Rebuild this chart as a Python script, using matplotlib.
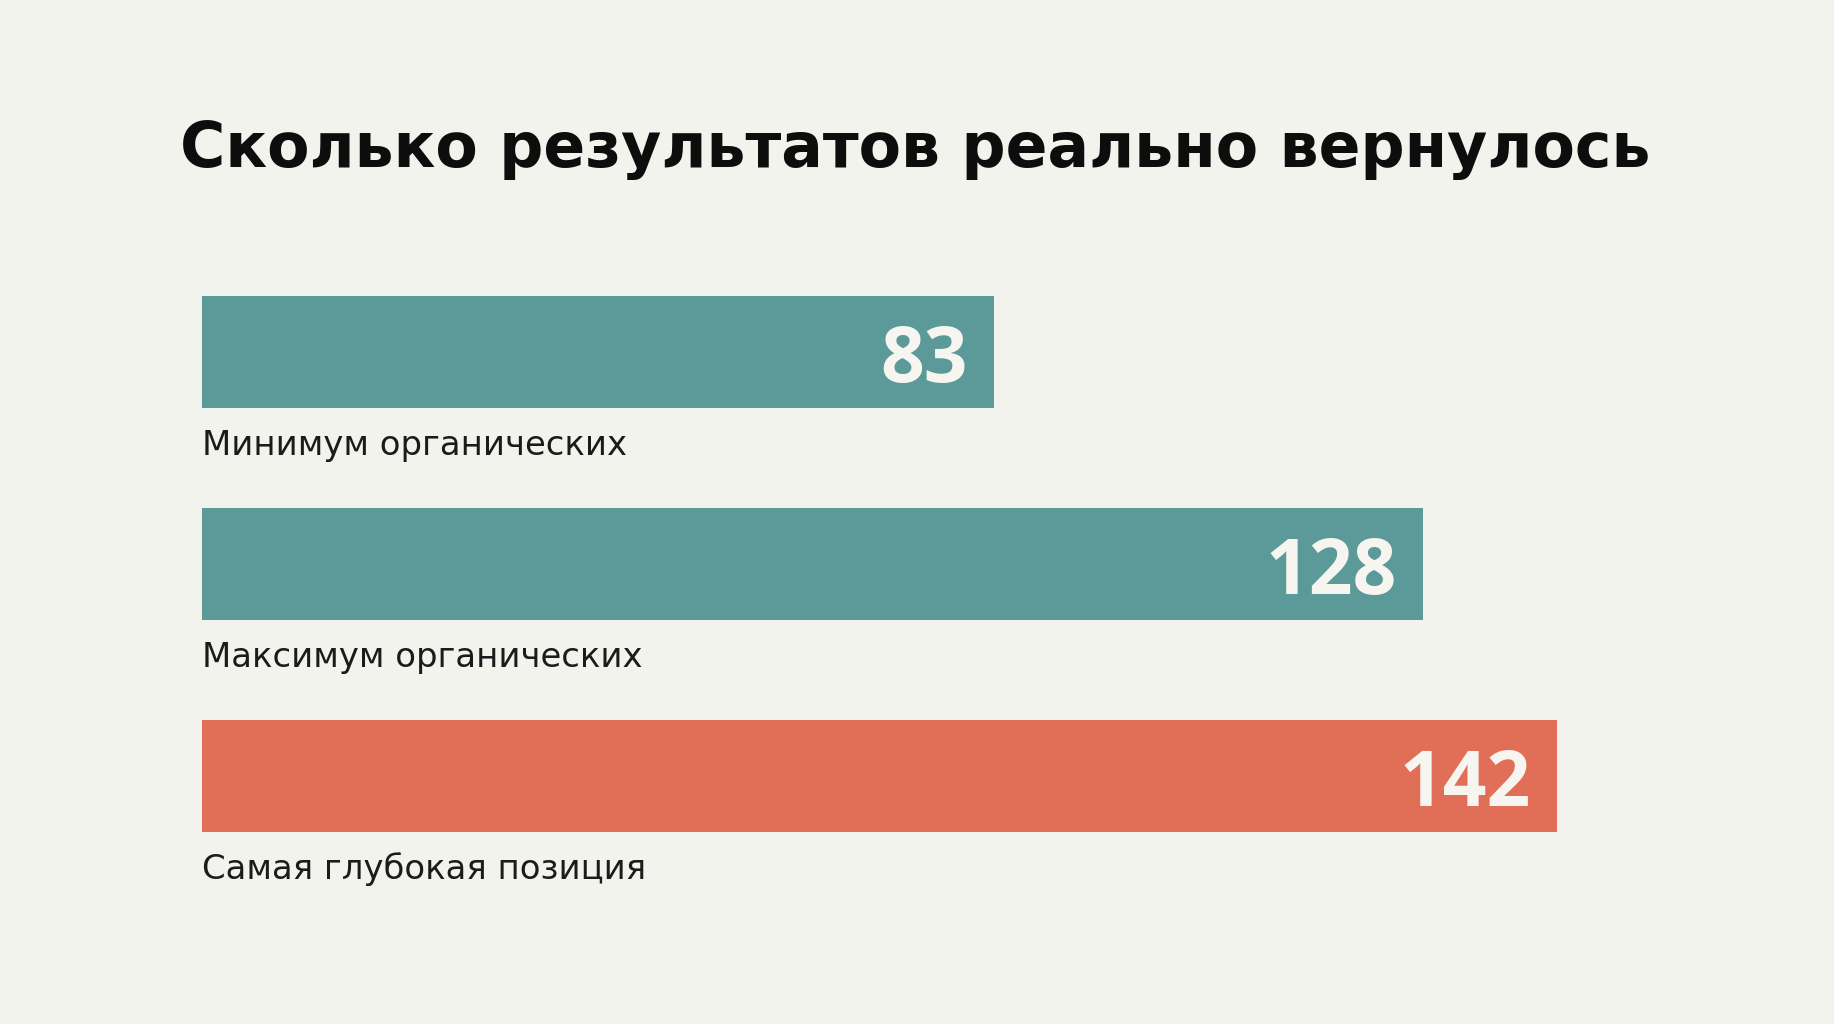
import matplotlib
matplotlib.use("Agg")
import matplotlib.pyplot as plt

# ---- data ----
title = "Сколько результатов реально вернулось"
categories = ["Минимум органических", "Максимум органических", "Самая глубокая позиция"]
values = [83, 128, 142]
colors = ["#5B9A99", "#5B9A99", "#E16E56"]

BG = "#F3F3EE"
W, H, DPI = 1834, 1024, 100

fig = plt.figure(figsize=(W / DPI, H / DPI), dpi=DPI, facecolor=BG)

# axes: value 0 at x=202px, ~9.54 px per unit; rows spaced 212px, first centred at y=352px
px_per_unit = 9.54
x_left = 202
xmax = (W - x_left) / px_per_unit
row = 212.0
top_px = 352 - row / 2
ax = fig.add_axes([x_left / W, 1 - (top_px + 3 * row) / H, 1 - x_left / W, 3 * row / H])
ax.set_facecolor(BG)
ax.set_xlim(0, xmax)
ax.set_ylim(2.5, -0.5)
ax.axis("off")

ypos = list(range(len(values)))
bar_h = 112 / row
ax.barh(ypos, values, height=bar_h, color=colors, edgecolor="none")

renderer = fig.canvas.get_renderer()


def fit_width(t, target):
    w = t.get_window_extent(renderer).width
    t.set_fontsize(t.get_fontsize() * target / w)


label_texts = []
num_texts = []
for y, cat, v in zip(ypos, categories, values):
    lt = ax.annotate(cat, xy=(0, y + bar_h / 2), xytext=(0, -47), textcoords="offset pixels",
                     ha="left", va="baseline", fontsize=24, color="#1b1b1b",
                     family=["DejaVu Sans"])
    label_texts.append(lt)
    nt = ax.annotate(str(v), xy=(v, y), xytext=(-26, -30), textcoords="offset pixels",
                     ha="right", va="baseline", fontsize=55, color="#F6F5F0",
                     family=["Open Sans"], fontweight="bold")
    num_texts.append(nt)

# common label size fitted to the widest label
fit_width(label_texts[1], 440)
for lt in label_texts:
    lt.set_fontsize(label_texts[1].get_fontsize())

fit_width(num_texts[2], 131)
for nt in num_texts:
    nt.set_fontsize(num_texts[2].get_fontsize())

tt = fig.text(180 / W, 1 - 167 / H, title, ha="left", va="baseline", fontsize=50,
              color="#0d0d0d", family=["DejaVu Sans"], fontweight="bold")
fit_width(tt, 1476)

fig.savefig("out.png", dpi=DPI, facecolor=BG)
